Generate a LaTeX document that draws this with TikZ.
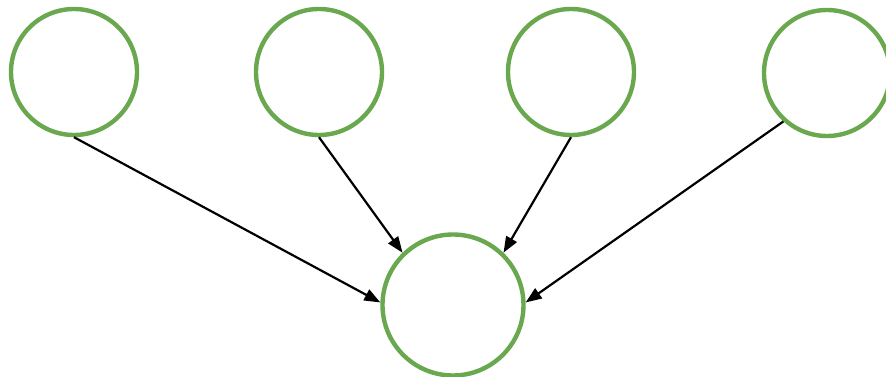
\documentclass[tikz,border=0pt]{standalone}
\usetikzlibrary{arrows.meta}
\definecolor{nodegreen}{RGB}{106,168,79}
\begin{document}
\begin{tikzpicture}[x=1pt,y=-1pt,
  topnode/.style={circle,draw=nodegreen,line width=4.4pt,inner sep=0pt,minimum size=126pt},
  botnode/.style={circle,draw=nodegreen,line width=4.4pt,inner sep=0pt,minimum size=141pt},
  edge/.style={draw=black,line width=2.2pt,-{Triangle[length=16pt,width=12pt]}}]
\useasboundingbox (0,0) rectangle (886,377);
\node[topnode] (c1) at (74,72) {};
\node[topnode] (c2) at (319,72) {};
\node[topnode] (c3) at (571,72) {};
\node[topnode] (c4) at (827,73) {};
\node[botnode] (b) at (453,305) {};
\draw[edge] (c1.south) -- (b.178);
\draw[edge] (c2.south) -- (b.134);
\draw[edge] (c3.south) -- (b.46);
\draw[edge] (c4.228) -- (b.2);
\end{tikzpicture}
\end{document}
